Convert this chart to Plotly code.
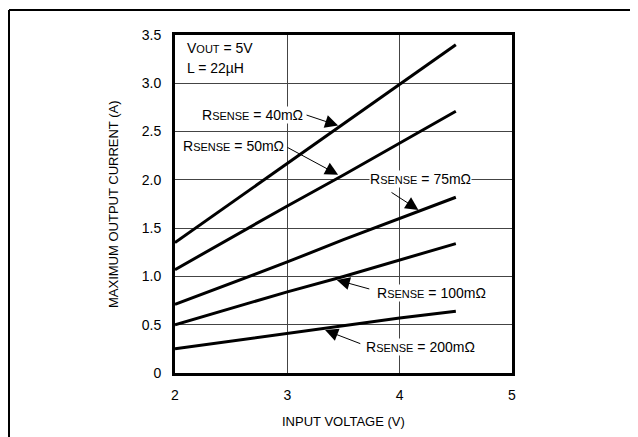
import plotly.graph_objects as go

# ---- data ----
vin = [2.0, 2.5, 3.0, 3.5, 4.0, 4.5]
i_40 = [1.35, 1.76, 2.17, 2.58, 2.99, 3.40]
i_50 = [1.07, 1.40, 1.73, 2.05, 2.38, 2.71]
i_75 = [0.71, 0.93, 1.15, 1.38, 1.60, 1.82]
i_100 = [0.50, 0.67, 0.84, 1.00, 1.17, 1.34]
i_200 = [0.25, 0.33, 0.41, 0.49, 0.57, 0.64]
series = [("40", i_40), ("50", i_50), ("75", i_75), ("100", i_100), ("200", i_200)]

x_ticks = [2, 3, 4, 5]
y_ticks = [0, 0.5, 1.0, 1.5, 2.0, 2.5, 3.0, 3.5]
y_ticklabels = ["0", "0.5", "1.0", "1.5", "2.0", "2.5", "3.0", "3.5"]

FONT = "Liberation Sans, Arial, sans-serif"

# page has an 8px body margin; plot area in screen pixels: x 175..512, y 35..372.7
OFF = 8
PX0, PX1, PY0, PY1 = 175, 512, 35, 372.7
W, H = 638, 437

def px(sx):  # screen x -> paper x
    return (sx - PX0) / (PX1 - PX0)

def py(sy):  # screen y -> paper y
    return (PY1 - sy) / (PY1 - PY0)

fig = go.Figure()
for name, vals in series:
    fig.add_trace(go.Scatter(x=vin, y=vals, mode="lines", name=name,
                             line=dict(color="black", width=3), showlegend=False,
                             hoverinfo="skip"))

def rs(val):
    return ("R<span style='font-size:11px'>SENSE</span> = " + val + "mΩ")

# (label, text x, text y, xanchor, arrow tail x, tail y, tip x, tip y)
labels = [
    ("40", 3.15, 2.676, "right", 3.158, 2.676, 3.452, 2.562),
    ("50", 2.98, 2.354, "right", 2.988, 2.344, 3.452, 2.053),
    ("75", 3.727, 2.005, "left", 3.914, 1.880, 4.167, 1.689),
    ("100", 3.79, 0.83, "left", 3.743, 0.866, 3.44, 0.963),
    ("200", 3.69, 0.27, "left", 3.663, 0.298, 3.336, 0.444),
]
ann = []
for lab, tx, ty, xa, ax, ay, ptx, pty in labels:
    ann.append(dict(x=ptx, y=pty, ax=ax, ay=ay, xref="x", yref="y", axref="x", ayref="y",
                    text="", showarrow=True, arrowhead=2, arrowsize=2.6, arrowwidth=1,
                    arrowcolor="black"))
    ann.append(dict(x=tx, y=ty, xref="x", yref="y", text=rs(lab), showarrow=False,
                    xanchor=xa, yanchor="middle", bgcolor="white", borderpad=0,
                    font=dict(family=FONT, size=14, color="black")))

ann.append(dict(x=2.089, y=3.37, xref="x", yref="y", xanchor="left", yanchor="middle",
                text="V<span style='font-size:11px'>OUT</span> = 5V", showarrow=False,
                font=dict(family=FONT, size=14, color="black")))
ann.append(dict(x=2.089, y=3.16, xref="x", yref="y", xanchor="left", yanchor="middle",
                text="L = 22µH", showarrow=False,
                font=dict(family=FONT, size=14, color="black")))

# axis titles
ann.append(dict(x=0.5, y=py(421.5), xref="paper", yref="paper",
                text="INPUT VOLTAGE (V)", showarrow=False, xanchor="center", yanchor="middle",
                font=dict(family=FONT, size=13, color="black")))
ann.append(dict(x=px(113), y=0.5, xref="paper", yref="paper",
                text="MAXIMUM OUTPUT CURRENT (A)", showarrow=False, textangle=-90,
                xanchor="center", yanchor="middle",
                font=dict(family=FONT, size=13, color="black")))

shapes = [
    dict(type="line", xref="paper", yref="paper", x0=px(9), x1=px(660),
         y0=py(10), y1=py(10), line=dict(color="black", width=2)),
    dict(type="line", xref="paper", yref="paper", x0=px(9), x1=px(9),
         y0=py(10), y1=py(460), line=dict(color="black", width=2)),
]

fig.update_layout(
    width=W, height=H,
    margin=dict(l=PX0 - OFF, r=W - (PX1 - OFF), t=PY0 - OFF, b=H - (PY1 - OFF)),
    paper_bgcolor="white", plot_bgcolor="white",
    font=dict(family=FONT, size=14, color="black"),
    annotations=ann, shapes=shapes,
    xaxis=dict(range=[2, 5], tickvals=x_ticks, showgrid=True, gridcolor="#444", gridwidth=1,
               showline=True, linecolor="black", linewidth=3, mirror=True, zeroline=False,
               ticks="", ticklabelstandoff=7, tickfont=dict(family=FONT, size=14)),
    yaxis=dict(range=[0, 3.5], tickvals=y_ticks, ticktext=y_ticklabels, showgrid=True,
               gridcolor="#444", gridwidth=1, showline=True, linecolor="black", linewidth=3,
               mirror=True, zeroline=False, ticks="", ticklabelstandoff=8,
               tickfont=dict(family=FONT, size=14)),
)

fig.write_html("out.html")
